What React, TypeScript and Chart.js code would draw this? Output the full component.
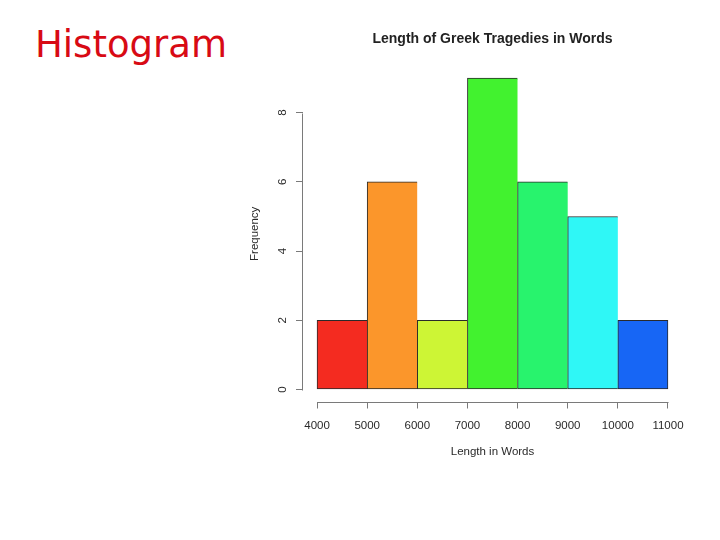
import React, { useEffect, useRef } from "react";
import { Chart, registerables } from "chart.js";

Chart.register(...registerables);

// ---- data ----
const binEdges = [4000, 5000, 6000, 7000, 8000, 9000, 10000, 11000];
const frequencies = [2, 6, 2, 9, 6, 5, 2];
const barColors = ["#f42b20", "#fb962b", "#cdf535", "#42f22f", "#28f36d", "#2ff7f6", "#1766f5"];
const xTickValues = [4000, 5000, 6000, 7000, 8000, 9000, 10000, 11000];
const yTickValues = [0, 2, 4, 6, 8];
const chartTitle = "Length of Greek Tragedies in Words";
const xAxisLabel = "Length in Words";
const yAxisLabel = "Frequency";
const slideTitle = "Histogram";

const FONT = "'Liberation Sans', Arial, Helvetica, sans-serif";
const TEXT = "#2a2a2a";
const AXIS = "#7a7a7a";

// R-style 4% range extension
const xLo = binEdges[0];
const xHi = binEdges[binEdges.length - 1];
const yHi = Math.max(...frequencies);
const xMin = xLo - 0.04 * (xHi - xLo);
const xMax = xHi + 0.04 * (xHi - xLo);
const yMin = -0.04 * yHi;
const yMax = yHi * 1.04;

const axisLinesPlugin = {
  id: "axisLines",
  afterDraw(chart: any) {
    const { ctx, chartArea, scales } = chart;
    const xs = scales.x;
    const ys = scales.y;
    ctx.save();
    ctx.strokeStyle = AXIS;
    ctx.lineWidth = 1;
    ctx.beginPath();
    const yb = Math.round(chartArea.bottom) + 0.5;
    ctx.moveTo(Math.round(xs.getPixelForValue(xTickValues[0])) + 0.5, yb);
    ctx.lineTo(Math.round(xs.getPixelForValue(xTickValues[xTickValues.length - 1])) + 0.5, yb);
    const xl = Math.round(chartArea.left) - 0.5;
    ctx.moveTo(xl, Math.round(ys.getPixelForValue(yTickValues[0])) + 0.5);
    ctx.lineTo(xl, Math.round(ys.getPixelForValue(yTickValues[yTickValues.length - 1])) + 0.5);
    ctx.stroke();
    ctx.restore();
  },
};

export default function App() {
  const canvasRef = useRef<HTMLCanvasElement | null>(null);

  useEffect(() => {
    if (!canvasRef.current) return;
    const last = frequencies.length - 1;
    const chart = new Chart(canvasRef.current, {
      type: "bar",
      data: {
        datasets: [
          {
            data: frequencies.map((f, i) => ({ x: (binEdges[i] + binEdges[i + 1]) / 2, y: f })),
            backgroundColor: barColors,
            borderColor: "#2a2a2a",
            borderWidth: (c: any) => ({ top: 1, left: 1, bottom: 1, right: c.dataIndex === last ? 1 : 0 }),
            borderSkipped: false,
            barPercentage: 1,
            categoryPercentage: 1,
          } as any,
        ],
      },
      options: {
        animation: false,
        responsive: false,
        devicePixelRatio: 1,
        layout: { padding: { left: 240, right: 38, top: 20, bottom: 60 } },
        plugins: {
          legend: { display: false },
          tooltip: { enabled: false },
          title: {
            display: true,
            text: chartTitle,
            fullSize: false,
            color: "#222222",
            font: { family: FONT, size: 14, weight: "bold" },
            padding: { top: 10.6, bottom: 18.2 },
          },
        },
        scales: {
          x: {
            type: "linear",
            min: xMin,
            max: xMax,
            offset: false,
            afterBuildTicks: (s: any) => {
              s.ticks = xTickValues.map((v) => ({ value: v }));
            },
            afterFit: (s: any) => {
              s.height = 78;
            },
            grid: {
              display: true,
              drawOnChartArea: false,
              drawTicks: true,
              tickLength: 6.5,
              color: AXIS,
              offset: false,
            },
            border: { display: false },
            ticks: {
              color: TEXT,
              font: { family: FONT, size: 11.5 },
              padding: 10,
              maxRotation: 0,
              autoSkip: false,
              callback: (v: any) => String(v),
            },
            title: {
              display: true,
              text: xAxisLabel,
              color: TEXT,
              font: { family: FONT, size: 11.5 },
              padding: { top: 0, bottom: 21.5 },
            },
          },
          y: {
            type: "linear",
            min: yMin,
            max: yMax,
            afterBuildTicks: (s: any) => {
              s.ticks = yTickValues.map((v) => ({ value: v }));
            },
            afterFit: (s: any) => {
              s.width = 63;
            },
            grid: {
              display: true,
              drawOnChartArea: false,
              drawTicks: true,
              tickLength: 7,
              color: AXIS,
            },
            border: { display: false },
            ticks: {
              color: TEXT,
              font: { family: FONT, size: 11.5 },
              padding: 10,
              minRotation: 90,
              maxRotation: 90,
              crossAlign: "center",
              callback: (v: any) => String(v),
            },
            title: {
              display: true,
              text: yAxisLabel,
              color: TEXT,
              font: { family: FONT, size: 11.5 },
              padding: { top: 8.1, bottom: 0 },
            },
          },
        },
      } as any,
      plugins: [axisLinesPlugin],
    });
    return () => chart.destroy();
  }, []);

  return (
    <div style={{ position: "absolute", left: 0, top: 0, width: 720, height: 540, background: "#ffffff" }}>
      <div
        style={{
          position: "absolute",
          left: 35,
          top: 25.7,
          fontFamily: "'DejaVu Sans', sans-serif",
          fontSize: 37,
          lineHeight: 1,
          color: "#d80a14",
          whiteSpace: "nowrap",
        }}
      >
        {slideTitle}
      </div>
      <canvas
        ref={canvasRef}
        width={720}
        height={540}
        style={{ position: "absolute", left: 0, top: 0, width: 720, height: 540, display: "block" }}
      />
    </div>
  );
}
